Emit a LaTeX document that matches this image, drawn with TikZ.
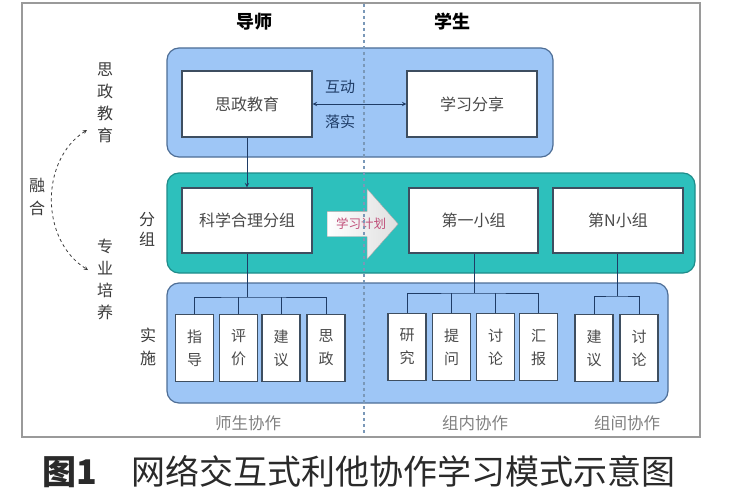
\documentclass[tikz,border=0pt]{standalone}
\usepackage{fontspec}
\setmainfont{Noto Sans CJK SC}
\usepackage{tikz}
\usetikzlibrary{shapes.arrows}
\definecolor{skyblue}{HTML}{9EC6F6}
\definecolor{panelline}{HTML}{4E6E96}
\definecolor{tealfill}{HTML}{2DC0BC}
\definecolor{tealline}{HTML}{1F8C8A}
\definecolor{boxline}{HTML}{3E4E60}
\definecolor{boxtext}{HTML}{4A4A4A}
\definecolor{linkcol}{HTML}{1F3C66}
\definecolor{dashcol}{HTML}{7A98B8}
\definecolor{framecol}{HTML}{9A9A9A}
\definecolor{sidetext}{HTML}{3A3A3A}
\definecolor{plancol}{HTML}{C0507A}
\definecolor{captext}{HTML}{2A2A2A}

\begin{document}
\begin{tikzpicture}
        [x = 1pt, y = -1pt, >= stealth,
         panel/.style = {draw = panelline, line width = 1.2pt, rounded corners = 12pt, inner sep = 0pt},
         box/.style = {draw = boxline, fill = white, line width = 1.2pt, minimum width = 130pt,
                       minimum height = 66pt, font = \fontsize{16}{16}\selectfont, text = boxtext},
         leaf/.style = {box, minimum width = 38pt, minimum height = 67pt, inner sep = 0pt,
                        align = center, font = \fontsize{15}{23}\selectfont},
         side/.style = {align = center, text = sidetext, font = \fontsize{16}{22}\selectfont},
         group/.style = {text = gray, font = \fontsize{16.5}{16.5}\selectfont},
         link/.style = {draw = linkcol, line width = 1pt}]
        \useasboundingbox (0,0) rectangle (741,503);
        \draw[framecol, line width = 1.5pt] (22,3) rectangle (700,437);
        \node[font = \bfseries\fontsize{18}{18}\selectfont] (ds) at (254,22) {导师};
        \node[font = \bfseries\fontsize{18}{18}\selectfont] (xs) at (452,22) {学生};
        % three layers
        \node[panel, fill = skyblue, minimum width = 386pt, minimum height = 109pt] (top) at (360,102.5) {};
        \node[panel, fill = tealfill, draw = tealline, minimum width = 528pt, minimum height = 100pt] (mid) at (431,223) {};
        \node[panel, fill = skyblue, minimum width = 501pt, minimum height = 120pt] (low) at (417.5,343) {};
        \node[box] (szjy) at (247,104) {思政教育};
        \node[box] (xxfx) at (472,104) {学习分享};
        \node[box, minimum height = 65pt] (kxfz) at (247,220.5) {科学合理分组};
        \node[box, minimum width = 129pt, minimum height = 65pt] (dyxz) at (473.5,220.5) {第一小组};
        \node[box, minimum height = 65pt] (dnxz) at (618,220.5) {第N小组};
        \node[single arrow, draw = gray!70, left color = white, right color = gray!25,
              minimum height = 71pt, single arrow head extend = 22.5pt, single arrow tip angle = 97,
              inner xsep = 0pt, inner ysep = 12.5pt, anchor = tail] (plan) at (327,224) {};
        \node[text = plancol, font = \fontsize{12.5}{12.5}\selectfont] (xxjh) at (361,224) {学习计划};
        \draw[link, <->] (szjy) -- (xxfx);
        \node[text = linkcol, font = \fontsize{15}{15}\selectfont] (hd) at (340,87) {互动};
        \node[text = linkcol, font = \fontsize{15}{15}\selectfont] (ls) at (340,122) {落实};
        \draw[link, ->] (szjy) -- (kxfz);
        % leaves
        \node[leaf] (zd) at (194.5,348) {指\\导};
        \node[leaf] (pj) at (238.5,348) {评\\价};
        \node[leaf] (jy) at (281,348) {建\\议};
        \node[leaf] (sz) at (326,348) {思\\政};
        \node[leaf] (yj) at (407,347) {研\\究};
        \node[leaf] (tw) at (451.5,347) {提\\问};
        \node[leaf] (tl) at (495.5,347) {讨\\论};
        \node[leaf] (hb) at (538.5,347) {汇\\报};
        \node[leaf] (jyb) at (594,348) {建\\议};
        \node[leaf] (tlb) at (639,348) {讨\\论};
        \coordinate (bus1) at (247,297);
        \coordinate (bus2) at (474,293);
        \coordinate (bus3) at (617,296);
        \draw[link] (kxfz) -- (bus1);
        \draw[link] (zd.north) |- (bus1) -| (sz.north);
        \foreach \n in {pj, jy}
          \draw[link] (\n.north) -- (\n.north |- bus1);
        \draw[link] (dyxz.south -| bus2) -- (bus2);
        \draw[link] (yj.north) |- (bus2) -| (hb.north);
        \foreach \n in {tw, tl}
          \draw[link] (\n.north) -- (\n.north |- bus2);
        \draw[link] (dnxz.south -| bus3) -- (bus3);
        \draw[link] (jyb.north) |- (bus3) -| (tlb.north);
        \node[group] (sszz) at (248,423) {师生协作};
        \node[group] (znxz) at (475,423) {组内协作};
        \node[group] (zjxz) at (627,423) {组间协作};
        % divider
        \coordinate (divtop) at (364,4);
        \coordinate (divbot) at (364,436);
        \draw[dashcol, dashed, line width = 1.2pt] (divtop) -- (divbot);
        % left side
        \node[side] (szl) at (105,103) {思\\政\\教\\育};
        \node[side] (zypy) at (105,279) {专\\业\\培\\养};
        \node[side, font = \fontsize{16}{23}\selectfont] (rh) at (37,196.5) {融\\合};
        \node[side, font = \fontsize{16}{20}\selectfont] (fz) at (147,229) {分\\组};
        \node[side, font = \fontsize{16}{23}\selectfont] (ss) at (148,346.5) {实\\施};
        \coordinate (rtop) at (87,130);
        \coordinate (rbot) at (88,270);
        \draw[sidetext, dashed, line width = 0.8pt, <->] (rtop) .. controls (40,160) and (40,240) .. (rbot);
        \node[text = captext, font = \fontsize{34}{34}\selectfont] (cap) at (359,472)
          {\textbf{图1}\hspace{1em}网络交互式利他协作学习模式示意图};
      \end{tikzpicture}
\end{document}
